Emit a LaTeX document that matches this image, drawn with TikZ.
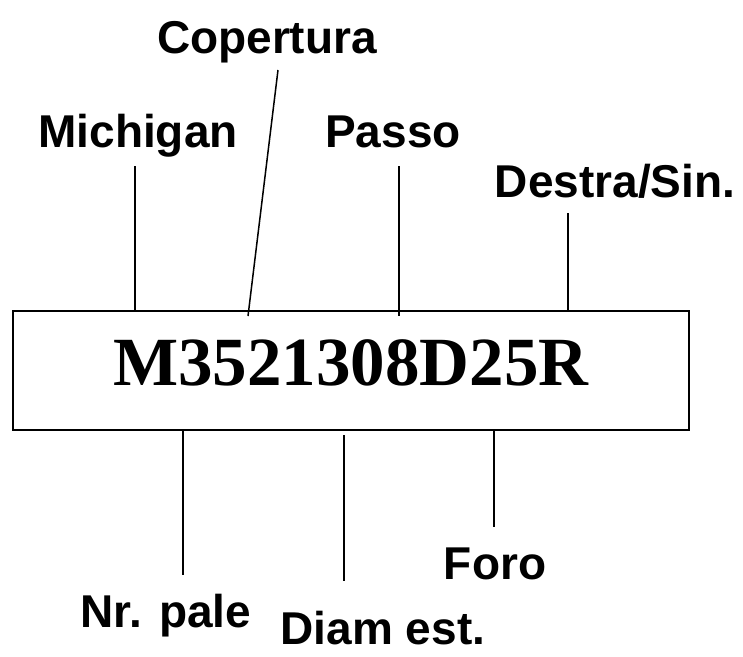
\documentclass[tikz,border=0pt]{standalone}
\usepackage{fontspec}
\setmainfont{Liberation Sans}
\newfontfamily\codefont{Liberation Serif}
\begin{document}
\begin{tikzpicture}[x=1pt,y=-1pt,
  lbl/.style={anchor=base,inner sep=0pt,font=\fontsize{46}{50}\selectfont\bfseries},
  lead/.style={line width=1.5pt}]
\useasboundingbox[fill=white] (0,0) rectangle (743,656);
\draw[line width=2pt] (13,311) rectangle (689,430);
\node[anchor=base,inner sep=0pt,font=\fontsize{69}{72}\codefont\bfseries] (code) at (351,385) {M3521308D25R};
\node[lbl] (cop) at (267,53) {Copertura};
\node[lbl] (mic) at (138,147) {Michigan};
\node[lbl] (pas) at (393,147) {Passo};
\node[lbl] (des) at (615,197) {Destra/Sin.};
\node[lbl] (nrp) at (166,627) {Nr. pale};
\node[lbl,text depth=0pt] (dia) at (383,644) {Diam est.};
\node[lbl] (for) at (495,579) {Foro};
\coordinate (m1) at (135,166); \coordinate (m2) at (135,311);
\coordinate (c1) at (278,70);  \coordinate (c2) at (248,316);
\coordinate (p1) at (399,166); \coordinate (p2) at (399,316);
\coordinate (d1) at (568,213); \coordinate (d2) at (568,311);
\coordinate (n1) at (183,430); \coordinate (n2) at (183,575);
\coordinate (e1) at (344,435); \coordinate (e2) at (344,581);
\coordinate (f1) at (494,430); \coordinate (f2) at (494,527);
\draw[lead] (m1) -- (m2);
\draw[lead] (c1) -- (c2);
\draw[lead] (p1) -- (p2);
\draw[lead] (d1) -- (d2);
\draw[lead] (n1) -- (n2);
\draw[lead] (e1) -- (e2);
\draw[lead] (f1) -- (f2);
\end{tikzpicture}
\end{document}
